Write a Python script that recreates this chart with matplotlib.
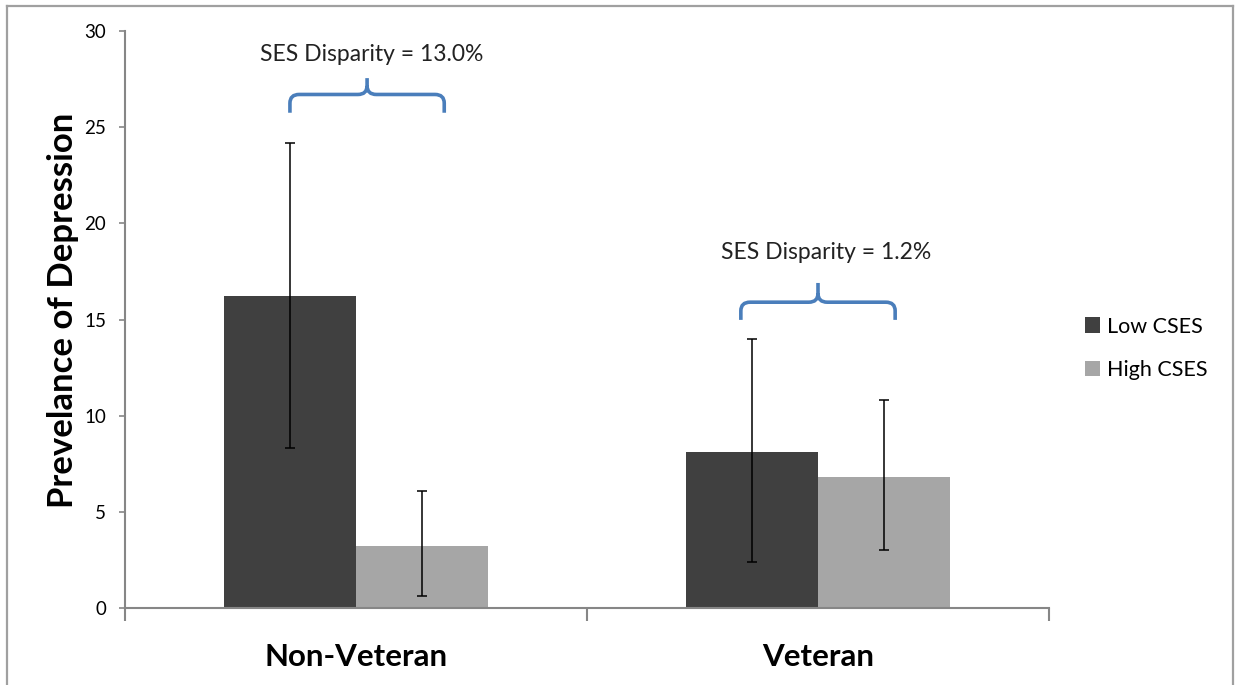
#bar chart of depression prevalence by veteran status and childhood SES, with error bars and disparity braces

import matplotlib
matplotlib.use('Agg')
import matplotlib.pyplot as plt
from matplotlib.path import Path
from matplotlib.patches import PathPatch
from matplotlib.lines import Line2D
import numpy as np

plt.rcParams['font.family'] = ['Lato', 'DejaVu Sans']

#values
groups = ['Non-Veteran', 'Veteran']
series = ['Low CSES', 'High CSES']
low_cses = [16.2, 8.1]
low_cses_upper = [24.2, 14.0]
low_cses_lower = [8.3, 2.4]
high_cses = [3.2, 6.8]
high_cses_upper = [6.1, 10.8]
high_cses_lower = [0.6, 3.0]
disparity_labels = ['SES Disparity = 13.0%', 'SES Disparity = 1.2%']

fig = plt.figure(figsize=(12.36, 6.85), dpi=100)
ax = fig.add_axes([125 / 1236, 1 - 608 / 685, 924 / 1236, 577 / 685])

x = np.arange(len(groups))
width = 0.286
grey = '#868686'

low_err = [np.array(low_cses) - np.array(low_cses_lower), np.array(low_cses_upper) - np.array(low_cses)]
high_err = [np.array(high_cses) - np.array(high_cses_lower), np.array(high_cses_upper) - np.array(high_cses)]

ax.bar(x - width / 2, low_cses, width, color='#404040', label=series[0], zorder=2)
ax.bar(x + width / 2, high_cses, width, color='#a6a6a6', label=series[1], zorder=2)
ax.errorbar(x - width / 2, low_cses, yerr=low_err, fmt='none', ecolor='black', elinewidth=1.1, capsize=3.6, capthick=1.1, zorder=3)
ax.errorbar(x + width / 2, high_cses, yerr=high_err, fmt='none', ecolor='black', elinewidth=1.1, capsize=3.6, capthick=1.1, zorder=3)

ax.set_xlim(-0.5, 1.5)
ax.set_ylim(0, 30)
ax.set_yticks(range(0, 31, 5))
ax.tick_params(axis='y', direction='out', length=4.5, width=1.2, color=grey, labelsize=13.5, pad=9)
ax.set_xticks(x)
ax.set_xticklabels(groups, fontsize=22.5, fontweight='bold')
ax.tick_params(axis='x', which='major', length=0, pad=25)
ax.set_xticks([-0.5, 0.5, 1.5], minor=True)
ax.tick_params(axis='x', which='minor', direction='out', length=9, width=1.5, color=grey)
for side in ['top', 'right']:
    ax.spines[side].set_visible(False)
for side in ['left', 'bottom']:
    ax.spines[side].set_color(grey)
    ax.spines[side].set_linewidth(1.5)

ax.set_ylabel('Prevelance of Depression', fontsize=25, fontweight='bold')
ax.yaxis.set_label_coords(-0.05, 0.516)

#curly braces over each group, drawn in data coordinates
def brace(xc, half, y_end, y_mid, y_tip):
    rx, ry = 0.02, 0.45
    x0, x1 = xc - half, xc + half
    verts = [(x0, y_end), (x0, y_mid - ry), (x0, y_mid), (x0 + rx, y_mid),
             (xc - rx, y_mid), (xc, y_mid), (xc, y_mid + ry), (xc, y_tip),
             (xc, y_mid + ry), (xc, y_mid), (xc + rx, y_mid),
             (x1 - rx, y_mid), (x1, y_mid), (x1, y_mid - ry), (x1, y_end)]
    codes = [Path.MOVETO, Path.LINETO, Path.CURVE3, Path.CURVE3,
             Path.LINETO, Path.CURVE3, Path.CURVE3, Path.LINETO,
             Path.MOVETO, Path.CURVE3, Path.CURVE3,
             Path.LINETO, Path.CURVE3, Path.CURVE3, Path.LINETO]
    ax.add_patch(PathPatch(Path(verts, codes), fill=False, edgecolor='#4a7ebb', linewidth=2.6,
                           capstyle='butt', joinstyle='round', clip_on=False, zorder=4))

brace(0.024, 0.167, 25.75, 26.7, 27.55)
brace(1.0, 0.167, 14.98, 15.9, 16.9)
ax.text(0.033, 28.8, disparity_labels[0], ha='center', va='center', fontsize=16.5, color='#222222')
ax.text(1.017, 18.5, disparity_labels[1], ha='center', va='center', fontsize=16.5, color='#222222')

ax.legend(loc='center left', bbox_to_anchor=(1.027, 0.45), frameon=False, fontsize=15.5, borderpad=0,
          handlelength=0.7, handleheight=0.7, handletextpad=0.35, labelspacing=1.1)

#grey frame round the chart area (bottom edge is cut off in the original)
for (xs, ys) in [([7, 7], [685, 6]), ([7, 1233], [6, 6]), ([1233, 1233], [6, 685])]:
    fig.add_artist(Line2D(np.array(xs) / 1236, 1 - np.array(ys) / 685, color='#a0a0a0', linewidth=1.6))

fig.savefig('out.png', dpi=100)
